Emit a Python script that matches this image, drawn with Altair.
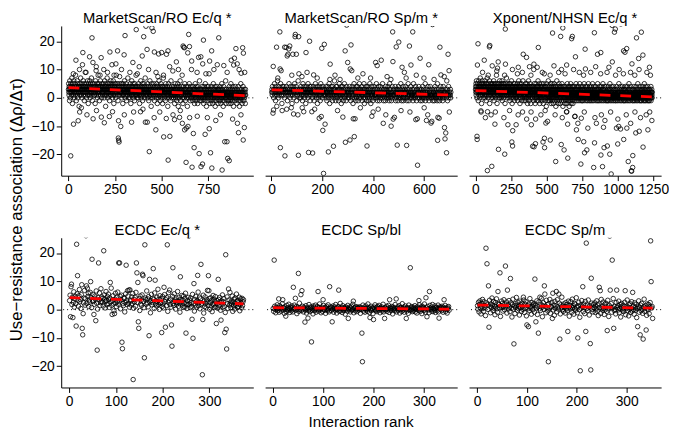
import altair as alt
import pandas as pd

FONT = "Liberation Sans"

# ---------------- data ----------------
TITLES = ["MarketScan/RO Ec/q *", "MarketScan/RO Sp/m *", "Xponent/NHSN Ec/q *",
          "ECDC Ec/q *", "ECDC Sp/bl", "ECDC Sp/m"]
X_DOMAINS = [[-38, 991], [-25, 731], [-45, 1305], [-17, 394], [-15, 366], [-16, 369]]
X_TICKS = [[0, 250, 500, 750], [0, 200, 400, 600], [0, 250, 500, 750, 1000, 1250],
           [0, 100, 200, 300], [0, 100, 200, 300], [0, 100, 200, 300]]
Y_DOMAIN = [-27.5, 25.4]
Y_TICKS = [-20, -10, 0, 10, 20]

# core (dense band) values, assigned to ranks not listed among the (rank, value) points
P1_CORE = [
3,5,2,1,4,3,-1,6,2,4,3,0,5,2,3,1,4,7,2,3,-2,4,3,5,1,2,6,3,0,4,2,3,5,1,3,8,2,4,-1,3,
2,4,3,6,1,3,0,5,2,4,3,2,-3,4,5,1,3,2,7,3,4,1,2,5,3,0,4,3,2,6,1,4,3,2,5,-1,3,4,2,9,
4,1,3,2,5,0,3,4,2,6,3,1,4,-2,3,5,2,3,1,4,6,2,3,0,4,5,2,3,1,7,3,2,4,-1,3,5,2,4,3,1,
3,2,5,1,4,3,-2,2,6,3,4,1,3,2,5,0,3,4,2,8,1,3,4,2,5,3,-1,4,2,3,6,1,3,4,2,0,5,3,2,4,
2,4,1,3,5,2,3,0,4,6,2,3,1,4,-3,3,5,2,4,1,3,2,7,3,0,4,2,5,3,1,4,2,3,-1,5,2,4,3,1,6,
3,1,4,2,5,3,0,2,4,3,6,1,3,-2,4,2,5,3,1,4,2,3,0,5,8,2,3,4,1,3,2,5,-1,3,4,2,1,5,3,2,
2,3,1,4,2,5,0,3,2,4,1,-2,3,5,2,3,1,4,6,2,3,0,4,2,3,1,5,2,-1,3,4,2,1,3,7,2,4,3,0,2,
3,2,4,1,3,0,5,2,3,-2,4,1,2,6,3,2,4,1,3,2,5,0,3,1,4,2,-1,3,5,2,1,4,3,2,8,1,3,2,4,0,
1,3,2,4,0,3,5,2,1,3,-2,4,2,3,1,6,2,3,0,4,2,1,3,5,-1,2,4,3,1,2,5,3,0,4,2,3,7,1,2,3,
2,1,3,4,0,2,5,1,3,2,-1,4,2,3,1,6,2,0,3,4,1,2,-3,3,5,2,1,3,2,4,0,2,3,1,5,2,-1,4,2,3,
1,3,2,0,4,2,5,1,3,-2,2,4,1,3,0,2,6,3,1,2,4,-1,3,2,1,5,2,0,3,4,1,2,3,-2,4,2,1,7,2,3,
2,0,3,1,4,2,-1,3,5,2,1,3,0,2,4,1,3,-3,2,5,1,2,3,0,4,2,1,3,-1,2,6,1,3,2,0,4,2,1,3,2,
1,2,0,3,4,1,2,-2,3,1,5,2,0,3,1,2,4,-1,2,3,0,1,5,2,3,-3,1,2,4,0,2,3,1,6,2,-1,3,1,2,4,
2,1,3,0,2,-2,4,1,2,3,0,5,1,2,-1,3,2,1,4,0,2,3,1,-3,2,4,1,2,0,3,5,1,2,-1,3,2,0,4,1,2,
0,2,3,1,-1,2,4,1,3,0,2,-2,1,3,2,5,0,1,3,-1,2,4,1,0,2,3,-2,1,4,2,0,3,1,2,6,-1,2,1,3,0,
1,3,0,2,-1,4,1,2,0,3,1,-2,2,4,0,1,3,2,-1,5,1,0,2,3,-3,1,2,4,0,1,3,-1,2,1,4,0,2,3,1,-2,
2,0,1,3,-1,2,4,0,1,2,-2,3,1,0,5,2,1,-1,3,2,0,1,4,-3,2,1,3,0,2,-1,1,4,2,0,3,1,-2,2,1,3,
0,2,1,-1,3,1,4,0,2,-2,1,3,0,2,5,1,-1,2,3,0,1,-3,2,4,1,0,2,-1,3,1,2,0,6,1,-2,2,3,0,1,2,
1,-1,2,0,3,1,-2,2,4,0,1,3,-1,2,0,1,5,-2,1,2,0,3,1,-1,2,4,0,1,-3,2,1,3,0,2,-1,1,4,0,2,1,
0,2,1,-2,3,1,0,2,-1,4,1,2,0,-3,1,3,2,0,1,-1,5,2,0,1,3,-2,1,2,0,4,1,-1,2,3,0,1,2,-2,3,1]

P1_POINTS = [
(88,26.7),(316,27.4),(127,21.2),(364,24.1),(304,22),(404,21.6),(416,25.3),(448,24.7),(455,23.5),(41,13.3),
(76,11.7),(114,14.5),(176,14.2),(223,16.2),(264,16.6),(299,15.2),(234,11.7),(255,12),(346,12.5),(396,14.8),
(422,17.1),(461,16.2),(27,8.5),(132,12.5),(149,9.6),(645,22.4),(724,20.4),(806,21.2),(534,16.6),(619,17.9),
(649,18.1),(640,15.9),(698,14.3),(710,14.5),(768,16.6),(898,17.4),(934,17.7),(938,15.8),(798,11.7),(833,11.4),
(873,13.3),(886,11.6),(926,8.7),(737,8.5),(754,8.5),(579,12.7),(543,11),(500,16),(615,18.3),(622,17.7),
(484,15.5),(526,15.4),(78,16),
(60,10),(95,9),(150,11),(190,10),(210,9),(245,8),(285,10),(330,9),(370,8.5),(380,11),
(430,10),(470,9),(510,8),(560,9.5),(590,10),(610,8),(660,10),(690,9),(720,12),(780,10),
(851,9),(905,12),(915,10),(945,9),(170,8),(275,7.5),(480,7.5),(661,13),(757,13),(890,14),
(13,-20.5),(28,-9.3),(53,-8.1),(133,-7.4),(177,-6.8),(193,-8.8),(220,-6.6),(237,-4.9),(269,-8.1),(281,-10.1),
(268,-14.2),(270,-15),(272,-15.6),(339,-8.6),(387,-4.9),(413,-8.6),(423,-8.6),(434,-19),(469,-11.3),(535,-22),
(631,-22.8),(663,-24.5),(711,-24.3),(719,-23.4),(769,-24.8),(824,-25.5),(854,-21.4),(862,-22.2),(674,-17.6),(701,-19.7),
(762,-19.4),(838,-15.5),(850,-15.5),(511,-13.8),(544,-13.6),(641,-10.1),(632,-10.7),(623,-11.3),(670,-12.6),(733,-12.9),
(755,-10.9),(912,-12.3),(937,-14.9),(943,-10.5),(525,-7.3),(569,-7.7),(596,-6.9),
(61,-5),(100,-6),(151,-4.5),(300,-6),(350,-5),(460,-7),(490,-5),(561,-6),(611,-9),(650,-7),
(691,-6.5),(745,-7),(790,-8),(815,-6),(880,-7.5),(906,-9),(925,-6),(70,-3.5),(400,-4),(600,-4.5)]

P2_CORE = [
2,3,1,4,2,0,3,2,5,1,3,2,-1,4,2,3,1,2,6,3,2,0,4,1,3,2,5,2,1,3,-2,4,2,3,1,2,4,3,0,2,
3,1,2,4,2,-1,3,2,1,5,2,3,0,2,4,1,3,2,-2,3,1,4,2,3,0,2,5,1,3,2,4,-1,2,3,1,2,6,2,0,3,
1,3,2,0,4,2,3,1,-1,2,5,3,1,2,4,0,3,2,1,3,-2,2,4,1,3,2,0,5,2,1,3,2,4,-1,2,3,1,4,2,2,
2,0,3,1,4,2,-1,3,2,1,5,2,3,0,2,1,4,-2,3,2,1,3,0,2,4,1,3,-1,2,5,1,2,3,0,4,2,1,3,2,1,
3,2,1,4,0,2,3,-1,2,1,4,2,0,3,1,5,2,-2,3,1,2,4,0,2,3,1,-1,4,2,1,3,0,2,6,1,3,2,-1,2,4,
1,2,4,0,3,1,2,-1,3,2,5,1,0,3,2,1,4,-2,2,3,0,1,4,2,-1,3,2,1,5,0,2,3,1,-1,4,2,1,3,0,2,
2,1,3,0,4,1,2,-1,3,2,0,4,1,3,-2,2,1,5,0,3,2,1,-1,4,2,0,3,1,2,4,-1,2,3,1,0,5,2,1,3,2,
0,3,2,1,4,-1,2,1,3,0,2,5,1,-2,3,2,0,1,4,2,-1,3,1,2,0,4,1,3,-1,2,2,0,5,1,3,-2,2,1,4,0,
2,1,-1,3,2,0,4,1,2,1,3,1,0,2,5,1,3,-1,2,0,4,1,2,3,-1,1,2,0,4,2,1,3,1,0,2,5,1,-1,3,2,
1,0,3,2,-1,4,1,2,0,3,1,1,2,4,0,2,1,-1,3,5,0,2,1,3,-1,2,0,4,1,2,1,3,1,0,2,4,1,-1,2,3,
0,2,1,3,-1,2,4,0,1,3,1,2,1,0,5,2,-1,1,3,0,2,4,-1,1,2,0,3,2,2,1,4,0,2,-1,3,1,0,2,5,1,
2,-1,1,3,0,2,4,1,1,2,0,3,1,-1,2,5,0,1,3,1,2,1,0,4,2,-1,1,3,0,2,2,1,4,2,0,1,3,-1,2,1,
1,3,0,2,-1,1,4,0,2,1,3,1,0,2,5,-1,1,2,0,3,1,1,2,4,0,1,-1,3,2,0,1,4,1,2,1,0,3,1,-1,2,
0,2,1,-1,3,1,4,0,2,1,1,3,0,2,-1,5,1,0,2,3,-1,1,2,0,4,1,2,1,3,0,1,-1,2,4,0,1,2,2,3,1,
2,0,1,3,-1,2,1,4,0,2,1,1,3,0,2]

P2_POINTS = [
(48,26.7),(33,23.3),(94,22.4),(107,21.6),(20,17.9),(52,17.9),(72,18.3),(62,14.8),(65,15.4),(84,15.4),
(98,15.4),(136,16),(150,20),(198,17.5),(208,18.9),(296,25.7),(313,18.7),(290,16.6),(7,11.1),(34,10.2),
(38,9.6),(231,11.9),(300,12.5),(310,10.2),(316,9.6),(108,8.5),(140,9),(166,8.1),(370,26.5),(438,27.1),
(477,23.3),(556,23.3),(634,25.9),(501,19.7),(491,18),(543,18.3),(663,17.9),(695,15.4),(585,14),(478,12.8),
(410,12.5),(416,11.4),(432,13.3),(514,10.8),(523,9),(549,11.6),(619,11.7),(699,9.6),(667,8.1),(58,17.8),
(68,17.3),(93,21.6),
(25,7),(80,8),(120,7.5),(180,7),(250,8),(270,6.5),(340,7),(360,8.5),(390,7),(455,7.5),
(470,6.5),(530,7),(570,8),(600,7),(640,6.5),(680,7.5),(690,6),(230,6.5),
(35,-17.6),(53,-20.5),(106,-20.3),(146,-19.3),(162,-19.5),(224,-19.1),(244,-17.1),(291,-15.7),(309,-14.9),(326,-13.7),
(205,-26.7),(202,-11.5),(211,-9.3),(188,-7.2),(196,-6.6),(6,-5.4),(8,-4.3),(42,-4.5),(87,-5.7),(104,-6),
(127,-4.9),(159,-4.9),(281,-6.8),(322,-7.4),(329,-7.4),(78,-3.5),(376,-17),(495,-16.7),(532,-16.8),(575,-23.8),
(689,-19.4),(654,-15),(683,-14.5),(686,-12.4),(628,-8.9),(631,-8.3),(655,-6.9),(660,-7.2),(568,-7.7),(574,-7.4),
(479,-7.5),(484,-6.9),(681,-10.5),
(21,-3),(60,-4),(121,-3.5),(170,-4),(260,-4.5),(350,-3.5),(400,-5),(420,-4),(450,-6),(510,-4.5),
(545,-5),(601,-3.5),(615,-6),(700,-5),(440,-9),(471,-10),(395,-6.5),(610,-8)]

P3_CORE = [
3,4,2,5,1,3,6,2,4,0,3,5,2,3,-1,4,2,6,3,1,4,3,2,5,0,3,4,2,7,3,1,4,2,5,3,-2,4,3,2,6,1,3,5,2,4,0,3,2,4,3,
2,5,3,1,4,3,0,6,2,3,4,1,5,3,2,-1,4,3,2,5,1,3,7,2,4,3,0,2,5,3,1,4,2,3,6,-2,3,4,2,1,5,3,2,4,0,3,2,5,1,4,
4,2,3,0,5,3,2,4,1,6,3,2,-1,4,3,5,1,2,4,3,0,3,5,2,1,4,3,8,2,3,-2,4,2,5,3,1,3,4,0,2,5,3,1,4,2,6,3,0,2,3,
3,1,4,2,5,3,0,2,4,3,1,6,2,-1,3,4,2,5,1,3,2,4,0,3,5,2,1,4,3,-2,2,5,3,1,4,2,3,7,1,3,2,4,0,5,2,3,1,4,2,3,
2,4,1,3,0,5,2,3,4,-1,2,3,1,5,2,4,0,3,2,1,6,3,2,4,-2,3,1,4,2,3,0,5,2,1,3,4,2,-1,3,2,5,1,3,4,0,2,3,1,4,2,
3,2,0,4,1,3,5,2,-1,3,2,4,1,6,2,3,0,4,2,1,3,5,-2,2,4,3,1,2,0,4,3,2,5,1,3,-1,2,4,2,3,0,6,1,3,2,4,1,-1,3,2,
1,3,2,4,0,3,2,5,1,-1,3,4,2,0,3,1,5,2,3,-2,4,2,1,3,0,2,6,3,1,4,-1,2,3,1,4,2,0,5,2,3,1,-2,4,2,3,0,2,4,1,3,
2,0,3,1,4,2,-1,3,5,2,1,3,0,4,2,-2,3,1,2,5,0,3,2,1,4,-1,2,3,0,4,1,2,6,3,-1,2,1,4,0,3,2,5,1,-2,3,2,0,4,1,2,
3,1,2,0,4,2,5,-1,2,3,1,0,4,2,3,-2,1,5,2,0,3,1,4,2,-1,3,0,2,4,1,3,-3,2,5,1,2,0,3,4,1,-1,2,3,0,6,2,1,3,-1,2,
1,4,0,2,3,-1,2,1,5,0,3,2,-2,4,1,2,0,3,5,1,-1,2,3,0,4,2,1,-2,3,2,0,5,1,3,-1,2,4,0,1,3,2,-3,4,1,2,0,3,1,6,2,
2,1,-1,3,0,4,2,1,-2,3,2,0,5,1,2,-1,3,4,0,2,1,3,-2,2,0,4,1,3,-1,2,5,0,1,3,2,-3,4,1,0,2,3,-1,2,4,0,1,3,2,-2,1,
0,3,1,2,-1,4,2,0,3,-2,1,5,2,0,1,3,-1,2,4,0,2,1,-3,3,2,0,4,1,-1,2,3,0,5,1,2,-2,3,1,0,2,4,-1,1,3,0,2,-2,4,1,2,
2,0,1,3,-1,2,4,0,1,1,3,2,0,1,5,-1,2,3,0,1,4,1,2,1,3,0,-1,2,4,1,0,3,2,2,1,0,5,2,-1,1,3,0,2,1,4,1,0,2,3,-1,
1,2,-1,3,0,2,4,1,1,3,0,2,-1,5,1,0,2,3,1,1,4,0,2,-1,1,3,0,2,2,4,1,0,2,-1,3,1,0,5,2,1,1,3,0,1,-1,2,4,0,1,2,
0,2,3,-1,1,0,4,2,1,1,3,0,2,-1,1,5,0,2,2,3,1,0,2,-1,4,1,0,2,3,1,1,0,2,4,-1,1,3,0,1,2,1,0,3,-1,5,1,0,2,1,3,
2,-1,1,3,0,2,1,4,1,0,2,-1,3,1,2,2,0,4,1,-1,2,3,0,1,1,2,5,0,1,-1,3,2,0,1,1,4,1,0,2,-1,3,0,1,2,2,1,4,0,2,-1,
1,0,2,-1,3,1,1,2,0,4,1,-1,2,0,3,1,1,1,5,0,2,-1,1,3,0,2,2,1,0,4,-1,2,1,0,3,1,1,2,0,-1,4,1,0,2,1,3,1,0,1,-1,
0,2,1,-1,3,0,1,1,4,1,0,2,-1,1,3,0,2,2,1,0,5,-1,1,2,0,3,1,1,0,2,4,-1,1,0,2,1,3,1,0,-1,2,1,4,0,1,1,2,0,3,-1,
1,-1,2,0,3,1,1,1,0,4,2,-1,0,1,3,2,1,2,0,-1,4,1,0,2,1,1,3,0,1,-1,5,0,2,1,1,3,0,1,-1,2,0,4,1,1,1,0,3,1,-1,2,
0,1,3,-1,2,0,1,1,4,0,1,2,-1,0,3,1,2,2,0,1,-1,4,0,2,1,1,3,0,1,-1,2,5,0,1,1,2,0,3,1,-1,0,2,4,1,1,0,2,-1,3,1,
1,0,-1,2,3,0,1,1,2,4,0,1,-1,3,0,2,2,1,0,2,5,-1,1,0,3,1,2,1,0,-1,4,1,0,2,1,1,3,0,-1,2,1,0,4,1,1,2,0,-1,3,1,
0,2,-1,1,3,0,1,2,1,0,4,-1,1,2,0,2,3,1,0,2]

P3_POINTS = [
(16,27.6),(176,27.5),(210,24.3),(18,19.1),(101,18.5),(335,27),(442,17.8),(336,15.4),(359,14.3),(14,11.6),
(62,13.3),(118,11.3),(160,12.7),(211,11.9),(301,10.8),(411,11.9),(434,10.8),(484,8.5),(552,11.3),(961,25.6),
(983,24.3),(1022,26.1),(977,23.2),(836,23),(676,20.9),(614,24.7),(1132,21.2),(1166,23.2),(771,17.2),(858,15.4),
(881,16),(1041,16.6),(1063,17.4),(1147,13.9),(1177,15.1),(703,14.5),(962,12.7),(938,10.8),(1223,10.8),(641,11.6),
(773,10.2),(98,18),(542,22.9),(599,21.7),(681,21.7),(1051,16.1),
(50,9),(90,8),(150,9.5),(205,8),(260,10),(295,8.5),(330,9),(390,8),(410,10),(470,9),
(525,8),(585,9),(630,8.5),(690,10),(730,9),(760,8),(810,9),(845,11),(880,8.5),(925,9),
(985,8),(1010,10),(1040,8.5),(1090,9),(1120,8),(1150,10),(1205,9),(1230,8),(155,10.5),(380,11),
(605,10),(1100,12),
(11,-13.6),(12,-14.7),(84,-25.7),(115,-24.2),(162,-18.2),(206,-19.9),(256,-15.6),(261,-17),(412,-17.3),(422,-16.2),
(485,-14.3),(526,-14.9),(486,-17.6),(564,-22.5),(39,-4.6),(85,-4.9),(137,-9.3),(228,-9.5),(262,-11.6),(286,-9.5),
(393,-9.5),(423,-7.5),(495,-8.9),(507,-8.3),(603,-16.5),(649,-21.3),(741,-23.4),(831,-24.6),(893,-24.3),(954,-26.9),
(1098,-25.9),(1105,-24.6),(767,-19.4),(837,-15.9),(882,-20.2),(944,-19.9),(1106,-20.4),(904,-17.6),(927,-17),(1042,-14.7),
(710,-11.3),(722,-14.7),(790,-10.7),(900,-10.4),(991,-10.7),(1007,-10.1),(1064,-10.7),(1127,-12.4),(1151,-11.8),(1212,-11.3),
(642,-4.9),(698,-6.6),(744,-7.2),(648,-9.3),(623,-18.4),(783,-18.4),(761,-15.5),(1000,-16.3),(1178,-17.4),(1074,-22.5),
(1095,-25.8),(475,-15.6),(402,-17.1),
(40,-5),(70,-7),(110,-6),(140,-5),(200,-7),(240,-4.5),(300,-6),(331,-5),(360,-7.5),(391,-5),
(460,-6),(490,-4.5),(560,-6),(610,-7),(640,-5),(700,-6.5),(720,-9),(765,-5),(840,-7),(885,-6),
(910,-8),(950,-5),(1001,-7.5),(1060,-6),(1091,-9),(1121,-5),(1160,-7),(1200,-6),(1240,-8),(1225,-5),
(850,-9),(1020,-11)]

P4_CORE = [
3.2,5.1,1.8,4.4,2.6,6.3,0.9,3.8,4.7,2.1,5.6,3.3,1.2,4.9,7.1,2.8,3.6,0.4,5.3,2.4,4.1,6.8,1.6,3.9,2.2,4.6,5.8,1.1,3.4,2.7,6.1,4.2,0.7,3.1,5.4,2.9,1.9,4.8,3.7,6.6,2.3,0.2,4.3,3.5,5.9,1.4,2.5,7.4,3.0,4.5,
2.6,4.0,1.3,5.2,3.8,0.6,2.9,6.4,3.2,1.7,4.6,2.2,5.5,3.6,0.8,4.1,2.7,7.6,1.5,3.3,4.9,2.0,-0.4,3.7,5.8,2.4,1.1,4.4,3.0,6.2,1.9,2.8,4.7,0.3,3.5,5.1,2.1,1.4,4.2,3.9,-0.8,2.5,5.6,3.1,1.8,4.8,2.3,6.9,0.9,3.4,
3.1,1.6,4.5,2.2,5.7,0.5,3.6,2.8,4.3,1.2,6.1,2.6,3.9,-0.3,4.8,2.0,3.3,1.5,5.2,2.9,0.7,4.1,3.5,1.9,6.6,2.4,3.8,1.0,4.6,2.7,-1.1,3.2,5.4,1.7,2.5,4.0,3.6,0.4,5.9,2.1,3.0,1.3,4.4,2.8,7.2,1.8,3.7,0.1,4.9,2.3,
2.4,3.9,1.1,4.6,2.0,0.6,5.3,2.8,3.5,1.4,4.2,-0.6,2.6,6.0,3.1,1.8,3.8,0.9,4.7,2.2,1.5,5.6,2.9,3.4,0.2,4.1,1.9,2.5,6.4,3.0,1.2,4.4,2.1,-0.9,3.6,2.7,5.0,1.6,3.3,0.8,4.8,2.3,1.0,3.9,5.8,2.0,0.4,3.2,1.7,4.3,
1.9,3.4,0.7,4.1,2.5,1.2,5.4,2.1,-0.5,3.6,1.6,4.7,2.8,0.9,3.1,6.2,1.4,2.6,4.4,0.3,3.8,1.8,2.3,5.1,-1.2,3.0,1.1,4.5,2.2,0.6,3.5,2.7,6.8,1.5,3.9,0.1,2.4,4.2,1.3,3.3,-0.7,2.0,5.0,1.7,3.7,0.8,2.9,4.6,1.0,3.2,
2.2,0.5,3.6,1.4,4.3,2.6,-0.2,3.1,1.8,5.2,0.9,2.8,3.9,1.2,-1.0,4.5,2.1,0.4,3.4,1.6,6.1,2.4,0.7,3.0,1.9,4.8,-0.6,2.7,1.3,3.7,0.2,4.1,2.0,1.5,5.5,2.9,0.8,3.3,1.1,2.5,4.4,-0.4,1.7,3.8,2.3,0.6,4.0,1.4,2.8,3.5]

P4_POINTS = [
(16,23.1),(36,26.1),(74,20.8),(49,17.8),(63,16.5),(106,16.5),(108,16.5),(122,15.7),(144,16.5),(162,22.9),
(210,22.9),(256,26),(282,16),(335,19.4),(222,14.8),(180,14.5),(18,12),(145,13),(157,12.5),(158,12),
(172,10.7),(184,10.4),(88,9.6),(46,9.9),(5,9),(4,8.1),(27,8.8),(37,8.4),(39,7.6),(238,11.6),
(275,12.1),(298,12),(319,10.7),(267,9.2),(299,6.7),(341,7.3),(203,7.9),(215,6.9),(147,9.6),(125,6.7),
(130,7),
(3,-2.5),(8,-2.8),(15,-5.8),(28,-6.6),(29,-8.9),(30,-1.4),(53,-1.7),(57,-3.9),(60,-14.3),(97,-1.4),
(92,-1.7),(113,-11.5),(114,-13.8),(148,-4.3),(149,-6.6),(137,-24.7),(161,-17),(171,-9.2),(198,-8.1),(206,-6.2),
(219,-5.4),(220,-12.9),(250,-8.3),(265,-10.1),(263,-3.4),(285,-23),(286,-3.5),(315,-4.9),(333,-8.1),(336,-6.9),
(337,-13.9),(325,-3.7)]

P5_CORE = [
0.4,-0.6,1.2,0.1,-1.1,0.8,0.3,1.7,-0.3,0.6,-0.9,1.4,0.2,0.9,-0.5,0.5,2.1,-0.1,0.7,-1.3,1.0,0.3,-0.7,1.5,0.0,0.6,-0.2,1.9,0.4,-1.0,0.9,0.2,-0.4,1.3,0.7,-0.8,0.1,1.6,0.5,-0.2,1.1,-1.4,0.3,0.8,-0.6,2.3,0.0,0.6,-0.3,1.2,
0.2,-0.8,0.9,0.5,-0.1,1.4,-1.2,0.3,0.7,-0.4,1.8,0.1,-0.7,0.6,1.0,-0.2,0.4,-1.5,1.3,0.8,-0.3,0.2,1.6,-0.9,0.5,0.0,1.1,-0.5,0.7,2.0,-0.1,0.3,-1.1,0.9,0.4,-0.6,1.5,0.2,-0.2,0.8,-1.3,0.6,1.2,0.1,-0.4,1.7,0.3,-0.8,0.5,1.0,
-0.3,0.7,0.1,1.3,-0.9,0.4,0.9,-0.2,1.8,0.2,-1.2,0.6,0.0,1.1,-0.6,0.5,2.2,-0.4,0.3,0.8,-1.0,1.4,0.1,-0.3,0.7,0.4,-1.6,1.0,0.2,0.6,-0.5,1.5,0.3,-0.1,0.9,-0.8,0.5,1.2,-0.2,0.0,1.9,-1.1,0.4,0.7,-0.4,1.1,0.2,-0.7,0.8,0.3,
0.6,-0.2,1.0,0.3,-1.3,0.8,0.1,1.6,-0.5,0.4,0.9,-0.9,0.2,1.3,-0.1,0.5,-0.6,2.0,0.3,0.7,-1.0,0.1,1.2,-0.3,0.6,0.4,-1.4,0.9,0.2,1.7,-0.4,0.0,0.8,-0.7,1.1,0.3,-0.2,1.5,0.5,-1.1,0.6,0.2,1.0,-0.5,0.4,1.9,-0.8,0.1,0.7,-0.1,
0.3,1.2,-0.6,0.5,0.0,1.5,-1.0,0.7,0.2,-0.3,1.1,0.4,-1.5,0.9,0.1,0.6,-0.4,1.8,0.3,-0.8,0.5,1.0,-0.2,0.2,1.4,-1.2,0.8,0.0,0.6,-0.6,2.1,0.4,-0.1,0.9,-0.9,0.3,1.3,0.1,-0.5,0.7,0.5,-1.3,1.6,0.2,-0.3,0.8,0.0,1.1,-0.7,0.4,
-0.4,0.8,0.2,1.4,-0.8,0.5,0.1,-1.2,1.0,0.6,-0.2,1.7,0.3,-0.6,0.9,0.0,-1.4,1.2,0.4,0.7,-0.3,2.0,0.2,-0.9,0.6,1.1,-0.1,0.3,-1.1,1.5,0.5,0.1,-0.5,0.9,1.8,-0.7,0.4,0.2,-0.2,1.3,-1.0,0.6,0.8,-0.4,0.3,1.6,-0.8,0.5,1.0,0.1,
0.7,-0.3,1.2,0.4,-0.9,0.8,0.2,1.5,-0.6,0.5,0.1,-1.2,0.9,0.3,1.1,-0.2]

P5_POINTS = [
(3,17.5),(51,12.8),(12,3.8),(41,7.9),(56,5.3),(58,6.7),(90,6.4),(113,8.1),(131,6.9),(232,3.5),
(273,14.8),(311,6.4),(304,4.2),(77,-11.4),(64,-4.4),(177,-8.3),(178,-18.4),(118,-4.3),(150,-3.1),(265,-3.1),
(306,-2.5),(222,-3.1),(193,-2.8),(26,-2.3),
(20,3.5),(45,4),(70,-3),(100,3.5),(160,3),(200,-3.5),(245,3.8),(290,3.2),(330,-3),(340,3.5)]

P6_CORE = [
1.4,0.2,2.6,-0.8,1.9,3.1,0.6,-1.5,2.2,1.1,3.6,0.4,-0.6,2.8,1.5,0.9,-2.1,2.4,1.7,0.1,3.3,1.2,-1.1,2.0,0.7,4.1,1.6,-0.3,2.9,0.5,1.3,-1.8,2.5,1.0,3.8,0.3,-0.9,2.1,1.8,0.6,-2.4,1.4,3.0,0.8,2.3,-0.5,1.1,3.5,0.0,1.9,
0.9,2.7,-1.2,1.6,0.3,3.2,1.0,-0.7,2.4,0.5,-2.6,1.8,3.7,0.2,1.3,-1.4,2.1,0.8,4.3,1.5,-0.2,2.6,0.4,1.2,-1.9,3.0,0.7,1.7,-0.6,2.3,1.1,0.1,3.4,-1.0,1.9,0.6,2.8,-2.2,1.4,0.3,2.0,-0.4,3.9,1.0,0.5,-1.6,2.5,1.3,0.0,1.8,
2.2,-0.9,1.5,0.6,3.1,-1.7,1.0,2.7,0.3,-0.3,1.9,4.0,0.8,-2.5,1.4,2.4,0.1,1.2,-1.1,3.3,0.7,1.8,-0.5,2.1,0.4,3.6,-1.3,1.1,0.9,2.6,-0.1,1.6,-2.0,2.9,0.5,1.3,-0.8,3.5,1.0,0.2,2.3,-1.5,1.7,0.6,4.4,0.0,1.2,-0.6,2.0,0.8,
1.1,-1.2,2.5,0.4,1.8,-0.4,3.0,0.9,-2.3,1.5,0.2,2.8,1.0,-0.9,3.7,0.6,1.4,-1.6,2.2,0.3,1.9,-0.2,4.2,0.8,-1.1,1.3,2.6,0.0,-2.7,1.7,0.5,3.2,1.2,-0.7,2.0,0.7,-1.4,2.9,0.4,1.6,-0.3,3.4,0.9,-1.9,1.4,2.3,0.1,-0.8,1.8,0.6,
0.7,2.4,-1.0,1.3,0.2,3.1,-0.5,1.6,-2.1,2.0,0.8,-1.3,3.6,0.4,1.1,-0.2,2.7,0.5,-1.7,1.9,0.0,2.3,1.0,-0.6,3.3,0.3,-2.4,1.5,0.9,2.1,-0.9,0.6,3.9,-0.3,1.2,0.1,-1.5,2.5,0.7,1.4,-0.1,3.0,-1.1,0.4,1.8,-2.6,1.0,2.2,0.2,-0.4,
1.5,-0.7,0.3,2.6,-1.8,1.1,0.5,3.4,-0.3,0.9,-2.2,1.7,0.1,2.1,-1.0,0.6,2.8,-0.5,1.3,0.0,-1.6,2.4,0.8,-0.2,1.9,-2.8,0.4,1.2,3.1,-0.9,0.7,1.6,-0.4,2.2,0.2,-1.3,1.0,3.7,-0.6,0.5,1.4,-2.0,2.0,0.3,-0.1,1.8,-1.4,0.9,2.5,0.6,1.1]

P6_POINTS = [
(18,21.7),(20,16.2),(23,8.4),(24,-6.2),(46,13),(57,15.4),(67,11),(61,6.9),(42,6.4),(74,-12.1),
(116,10.8),(135,8.4),(143,-18.4),(151,-3.1),(118,-4.3),(100,-5.4),(103,-6),(123,-8.3),(166,-10.4),(182,-7.7),
(202,-10),(207,-21.6),(228,-21.3),(227,-12),(218,-7.7),(219,23.5),(229,11.1),(212,8.1),(245,7.9),(266,26),
(271,17.5),(261,-7.4),(274,-6.6),(297,6.7),(312,6.1),(322,-6),(327,-8.9),(333,-10.4),(339,-7.2),(348,24.3),
(349,9.9),(352,-3.1),(280,6.9),(267,6.9),(247,6.7),(159,6.4),(164,5.5),(152,5.8),(126,4.4),(136,5.5),
(93,4.4)]

CORES = [P1_CORE, P2_CORE, P3_CORE, P4_CORE, P5_CORE, P6_CORE]
POINTS = [P1_POINTS, P2_POINTS, P3_POINTS, P4_POINTS, P5_POINTS, P6_POINTS]


def build(core, pts):
    total = len(core) + len(pts)
    taken = {r for r, _ in pts}
    free = [r for r in range(1, total + 1) if r not in taken]
    rows = [{"rank": r, "v": v} for r, v in zip(free, core)]
    rows += [{"rank": r, "v": v} for r, v in pts]
    return pd.DataFrame(rows)


AX = dict(grid=False, domainColor="black", domainWidth=1, tickColor="black", tickWidth=1,
          tickSize=5, labelFont=FONT, labelFontSize=14, labelColor="black", labelPadding=2,
          labelFlush=False, labelOverlap=False, title=None)


def panel(i, show_y):
    df = build(CORES[i], POINTS[i])
    xenc = alt.X("rank:Q", scale=alt.Scale(domain=X_DOMAINS[i], nice=False, zero=False),
                 axis=alt.Axis(values=X_TICKS[i], format="d", **AX))
    yaxis = alt.Axis(values=Y_TICKS, **AX) if show_y else None
    yenc = alt.Y("v:Q", scale=alt.Scale(domain=Y_DOMAIN, nice=False, zero=False), axis=yaxis)
    zero = alt.Chart(pd.DataFrame({"v": [0.0]})).mark_rule(
        color="black", strokeDash=[1, 3], strokeWidth=1).encode(y=yenc)
    pts = alt.Chart(df).mark_point(shape="circle", filled=False, color="black", size=21,
                                   strokeWidth=0.8, opacity=1, clip=True).encode(x=xenc, y=yenc)
    reg = alt.Chart(df).transform_regression("rank", "v").mark_line(
        color="#ff0000", strokeDash=[11, 10], strokeWidth=2.8, clip=True).encode(x=xenc, y=yenc)
    return alt.layer(zero, pts, reg).properties(
        width=195, height=152,
        title=alt.TitleParams(TITLES[i], font=FONT, fontSize=15, fontWeight="normal",
                              color="black", anchor="middle", offset=0))


row1 = alt.hconcat(panel(0, True), panel(1, False), panel(2, False), spacing=10)
row2 = alt.hconcat(panel(3, True), panel(4, False), panel(5, False), spacing=10)

inner = alt.vconcat(row1, row2, spacing=27,
                    title=alt.TitleParams("Use−resistance association (Δρ/Δτ)", orient="left",
                                          anchor="middle", font=FONT, fontSize=17,
                                          fontWeight="normal", color="black", offset=5))
chart = alt.vconcat(inner, title=alt.TitleParams("Interaction rank", orient="bottom",
                                                 anchor="middle", font=FONT, fontSize=15.5,
                                                 fontWeight="normal", color="black", offset=7,
                                                 dx=23)).properties(
    padding={"top": 0, "left": 0, "right": 0, "bottom": 0},
    background="white",
).configure_view(stroke=None)

chart.save("out.html", embed_options={"renderer": "svg", "actions": False})
